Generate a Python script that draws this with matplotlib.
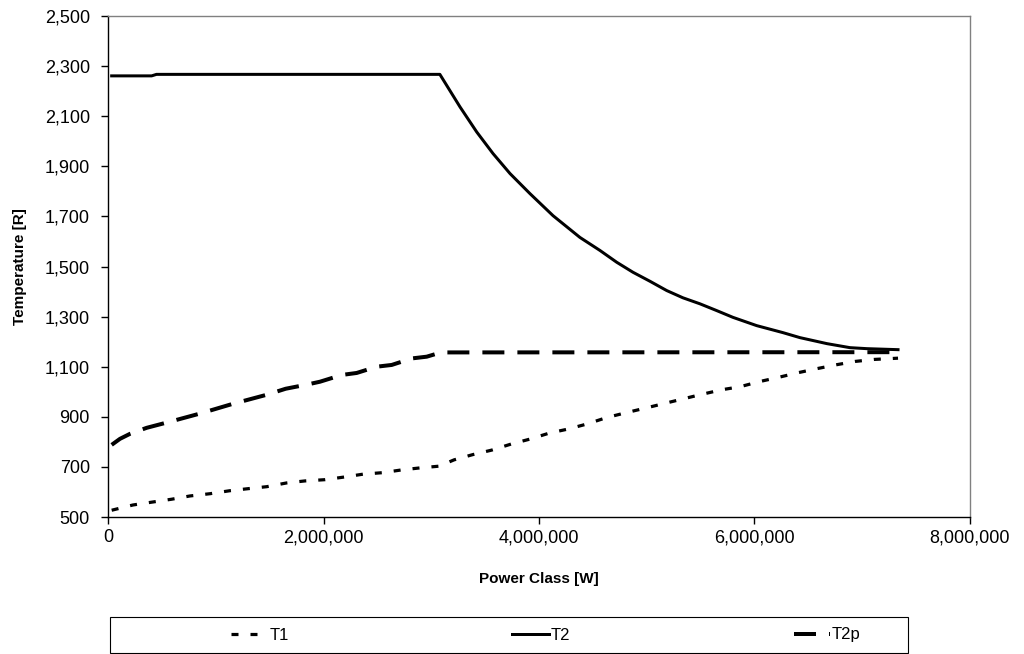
import matplotlib
matplotlib.use("Agg")
import matplotlib.pyplot as plt
from matplotlib.ticker import FuncFormatter
from matplotlib.patches import Rectangle
from matplotlib.lines import Line2D

plt.rcParams['font.family'] = ['Liberation Sans', 'DejaVu Sans']
plt.rcParams['lines.scale_dashes'] = False

# ---------------- data ----------------
t1_x = [0.034, 0.232, 0.418, 0.591, 0.761, 0.947, 1.132, 1.299, 1.473, 1.658,
        1.828, 2.014, 2.200, 2.367, 2.549, 2.726, 2.896, 3.075, 3.211, 3.385,
        3.561, 3.740, 3.916, 4.096, 4.269, 4.443, 4.628, 4.814, 4.990, 5.494,
        5.696, 5.865, 6.051, 6.218, 6.404, 6.577, 6.763, 6.933, 7.109, 7.332]
t1_y = [527, 548, 560, 571, 584, 593, 605, 613, 621, 636,
        644, 649, 660, 671, 677, 688, 696, 703, 728, 749,
        767, 791, 811, 835, 851, 871, 897, 917, 935, 988,
        1008, 1020, 1041, 1057, 1076, 1092, 1108, 1121, 1129, 1134]

t2_x = [0.034, 0.405, 0.45, 3.08, 3.267, 3.422, 3.573, 3.731, 3.916, 4.130,
        4.380, 4.566, 4.721, 4.872, 5.030, 5.185, 5.336, 5.494, 5.649, 5.800,
        6.020, 6.264, 6.422, 6.673, 6.886, 7.044, 7.332]
t2_y = [2261, 2261, 2267, 2267, 2137, 2037, 1951, 1871, 1791, 1703,
        1616, 1564, 1517, 1477, 1441, 1404, 1375, 1351, 1324, 1297,
        1264, 1236, 1216, 1192, 1176, 1172, 1168]

t2p_x = [0.034, 0.111, 0.204, 0.359, 0.545, 0.854, 1.160, 1.473, 1.649, 1.839,
         1.967, 2.169, 2.308, 2.494, 2.633, 2.819, 2.958, 3.09, 7.332]
t2p_y = [788, 812, 832, 856, 877, 913, 952, 988, 1012, 1028,
         1040, 1067, 1075, 1100, 1107, 1133, 1140, 1157, 1158]

series_names = ['T1', 'T2', 'T2p']
x_ticks = [0, 2000000, 4000000, 6000000, 8000000]
y_ticks = [500, 700, 900, 1100, 1300, 1500, 1700, 1900, 2100, 2300, 2500]

M = 1e6
t1_xw = [v * M for v in t1_x]
t2_xw = [v * M for v in t2_x]
t2p_xw = [v * M for v in t2p_x]

# ---------------- figure ----------------
W, H = 1024, 654
fig = plt.figure(figsize=(W / 100, H / 100), dpi=100)
ax = fig.add_axes([108 / W, 1 - 517 / H, (970 - 108) / W, (517 - 16) / H])

px = 72 / 100  # points per pixel
st_t1 = dict(color='black', lw=3.2 * px, dashes=(7 * px, 12 * px))
st_t2 = dict(color='black', lw=3.0 * px)
st_t2p = dict(color='black', lw=4.0 * px, dashes=(22 * px, 13 * px))

ax.plot(t1_xw, t1_y, **st_t1)
ax.plot(t2_xw, t2_y, **st_t2)
ax.plot(t2p_xw, t2p_y, **st_t2p)

ax.set_xlim(0, 8000000)
ax.set_ylim(500, 2500)
ax.set_xticks(x_ticks)
ax.set_yticks(y_ticks)
ax.xaxis.set_major_formatter(FuncFormatter(lambda v, p: f"{int(v):,}"))
ax.yaxis.set_major_formatter(FuncFormatter(lambda v, p: f"{int(v):,}"))

for s in ['top', 'right']:
    ax.spines[s].set_color('#808080')
    ax.spines[s].set_linewidth(1.0)
for s in ['left', 'bottom']:
    ax.spines[s].set_color('black')
    ax.spines[s].set_linewidth(1.0)

ax.tick_params(axis='both', direction='out', length=5, width=1.0,
               labelsize=13, colors='black')
ax.tick_params(axis='y', pad=8)
ax.tick_params(axis='x', pad=4)

ax.set_xlabel('Power Class [W]', fontsize=11, fontweight='bold', labelpad=18)
ax.set_ylabel('Temperature [R]', fontsize=11, fontweight='bold', labelpad=13)

# ---------------- legend ----------------
box = Rectangle((110 / W, 1 - 653 / H), (908 - 110) / W, (653 - 617) / H,
                transform=fig.transFigure, fill=False, edgecolor='black', lw=0.8)
fig.patches.append(box)

handles = [Line2D([], [], **st_t1), Line2D([], [], **st_t2), Line2D([], [], **st_t2p)]
fig.legend(handles, series_names, loc='center', bbox_to_anchor=(546 / W, 1 - 635 / H),
           ncol=3, frameon=False, fontsize=12, handlelength=2.2, handletextpad=0.1,
           columnspacing=13.4)

fig.savefig('out.png', dpi=100)
